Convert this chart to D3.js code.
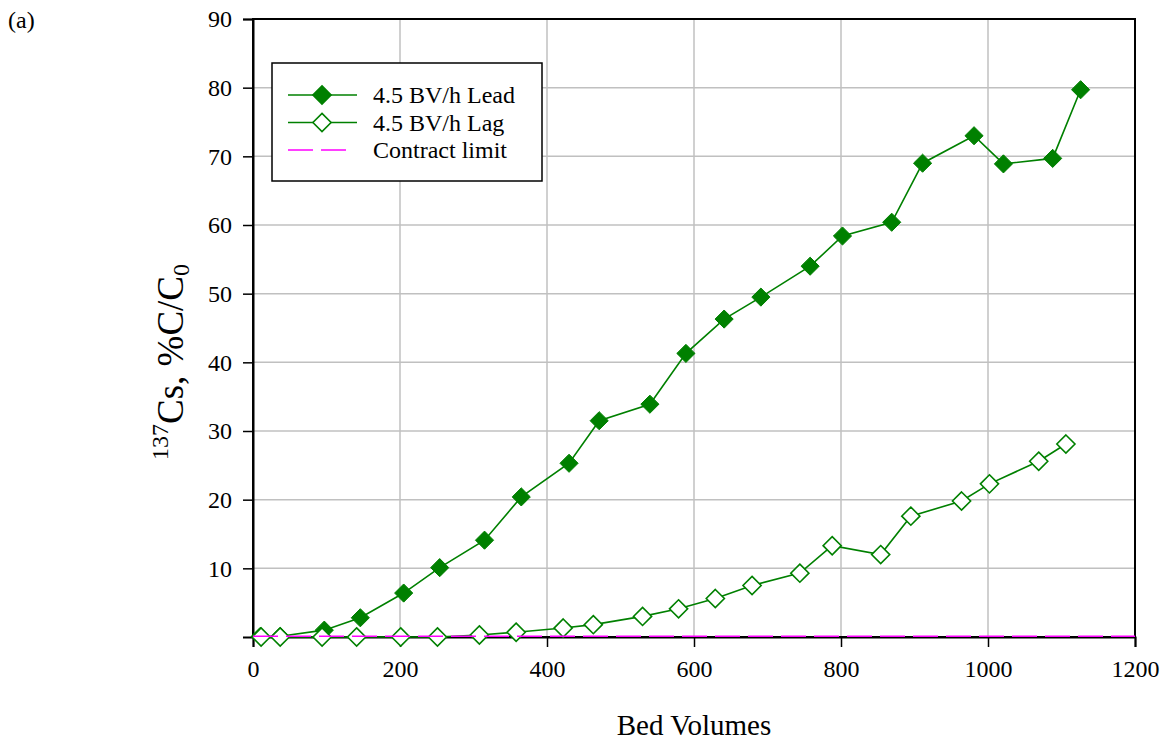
<!DOCTYPE html>
<html>
<head>
<meta charset="utf-8">
<script src="https://cdn.jsdelivr.net/npm/d3@7"></script>
<style>
  body { margin: 0; background: #fff; }
  svg text { font-family: "Liberation Serif", "Times New Roman", serif; fill: #000; }
</style>
</head>
<body>
<div id="chart"></div>
<script>
// data
const leadBV  = [10, 37, 97, 146, 205, 254, 315, 365, 430, 471, 540, 589, 641, 691, 758, 802, 869, 911, 981, 1021, 1088, 1126];
const leadPct = [0.1, 0.1, 1.0, 2.8, 6.4, 10.1, 14.1, 20.4, 25.3, 31.5, 33.9, 41.3, 46.3, 49.5, 54.0, 58.4, 60.4, 69.0, 73.0, 68.9, 69.7, 79.7];
const lagBV   = [11, 37, 94, 141, 201, 251, 308, 358, 422, 463, 530, 579, 629, 679, 744, 788, 854, 895, 964, 1002, 1069, 1106];
const lagPct  = [0, 0, 0, 0, 0, 0, 0.3, 0.7, 1.3, 1.8, 3.0, 4.1, 5.6, 7.5, 9.3, 13.3, 12.0, 17.6, 19.8, 22.3, 25.6, 28.1];
const limitBV  = [0, 1200];
const limitPct = [0.1, 0.1];
const xTicks = [0, 200, 400, 600, 800, 1000, 1200];
const yTicks = [10, 20, 30, 40, 50, 60, 70, 80, 90];
const legendLabels = ["4.5 BV/h Lead", "4.5 BV/h Lag", "Contract limit"];

const W = 1169, H = 745;
const margin = { top: 19, right: 34, bottom: 108, left: 253 };
const width = W - margin.left - margin.right;
const height = H - margin.top - margin.bottom;
const green = "#008000", magenta = "#ff00ff";
const serif = "'Liberation Serif', 'Times New Roman', serif";

const svg = d3.select("#chart").append("svg")
  .attr("width", W).attr("height", H);
const g = svg.append("g").attr("transform", `translate(${margin.left},${margin.top})`);

const x = d3.scaleLinear().domain([0, 1200]).range([0, width]);
const y = d3.scaleLinear().domain([0, 90]).range([height, 0]);

// grid
g.append("g").selectAll("line").data(xTicks.slice(1, -1)).enter().append("line")
  .attr("x1", d => x(d)).attr("x2", d => x(d)).attr("y1", 0).attr("y2", height)
  .attr("stroke", "#c0c0c0").attr("stroke-width", 1.5);
g.append("g").selectAll("line").data(yTicks.slice(0, -1)).enter().append("line")
  .attr("x1", 0).attr("x2", width).attr("y1", d => y(d)).attr("y2", d => y(d))
  .attr("stroke", "#c0c0c0").attr("stroke-width", 1.5);

// frame
g.append("rect").attr("width", width).attr("height", height)
  .attr("fill", "none").attr("stroke", "#000").attr("stroke-width", 2);

// axes
const xAxis = g.append("g").attr("transform", `translate(0,${height})`)
  .call(d3.axisBottom(x).tickValues(xTicks).tickFormat(d3.format("d")).tickSize(10).tickPadding(13));
const yAxis = g.append("g")
  .call(d3.axisLeft(y).tickValues(yTicks).tickFormat(d3.format("d")).tickSize(10).tickPadding(11));
[xAxis, yAxis].forEach(a => {
  a.attr("font-family", serif).attr("font-size", 24);
  a.select(".domain").attr("stroke", "#000").attr("stroke-width", 2);
  a.selectAll(".tick line").attr("stroke", "#000").attr("stroke-width", 1.5);
  a.selectAll(".tick text").attr("fill", "#000");
});

const diamond = d3.symbol().type(d3.symbolDiamond2).size(210);
const line = d3.line().x(d => x(d[0])).y(d => y(d[1]));

const lead = leadBV.map((v, i) => [v, leadPct[i]]);
const lag = lagBV.map((v, i) => [v, lagPct[i]]);
const limit = limitBV.map((v, i) => [v, limitPct[i]]);

// lead series
g.append("path").datum(lead).attr("d", line)
  .attr("fill", "none").attr("stroke", green).attr("stroke-width", 1.6);
g.append("g").selectAll("path").data(lead).enter().append("path")
  .attr("d", diamond)
  .attr("transform", d => `translate(${x(d[0])},${y(d[1])})`)
  .attr("fill", green).attr("stroke", green).attr("stroke-width", 1);

// lag series
g.append("path").datum(lag).attr("d", line)
  .attr("fill", "none").attr("stroke", green).attr("stroke-width", 1.6);
g.append("g").selectAll("path").data(lag).enter().append("path")
  .attr("d", diamond)
  .attr("transform", d => `translate(${x(d[0])},${y(d[1])})`)
  .attr("fill", "#fff").attr("stroke", green).attr("stroke-width", 1.6);

// contract limit
g.append("path").datum(limit).attr("d", line)
  .attr("fill", "none").attr("stroke", magenta).attr("stroke-width", 1.6)
  .attr("stroke-dasharray", "25,8");

// legend
const leg = svg.append("g").attr("transform", "translate(272,63)");
leg.append("rect").attr("width", 270).attr("height", 118)
  .attr("fill", "#fff").attr("stroke", "#000").attr("stroke-width", 1.5);
const rows = leg.selectAll(".row").data(legendLabels).enter().append("g")
  .attr("transform", (d, i) => `translate(0,${32 + i * 27.5})`);
rows.filter((d, i) => i < 2).append("line")
  .attr("x1", 16).attr("x2", 85).attr("stroke", green).attr("stroke-width", 1.6);
rows.filter((d, i) => i < 2).append("path")
  .attr("d", diamond).attr("transform", "translate(50,0)")
  .attr("fill", (d, i) => i === 0 ? green : "#fff")
  .attr("stroke", green).attr("stroke-width", 1.6);
rows.filter((d, i) => i === 2).append("line")
  .attr("x1", 16).attr("x2", 75).attr("stroke", magenta).attr("stroke-width", 1.6)
  .attr("stroke-dasharray", "25,8");
rows.append("text").attr("x", 101).attr("y", 8)
  .style("font-size", "24px").text(d => d);

// titles
svg.append("text").attr("x", 8).attr("y", 28).style("font-size", "24px").text("(a)");
svg.append("text").attr("x", margin.left + width / 2).attr("y", 735)
  .attr("text-anchor", "middle").style("font-size", "29px").text("Bed Volumes");
const yt = svg.append("text")
  .attr("transform", "translate(178,362) rotate(-90)")
  .attr("text-anchor", "middle").style("font-size", "37px");
yt.append("tspan").attr("dy", "-0.4em").style("font-size", "24px").text("137");
yt.append("tspan").attr("dy", "0.4em").text("Cs, %C/C");
yt.append("tspan").attr("dy", "0.25em").style("font-size", "24px").text("0");
</script>
</body>
</html>
